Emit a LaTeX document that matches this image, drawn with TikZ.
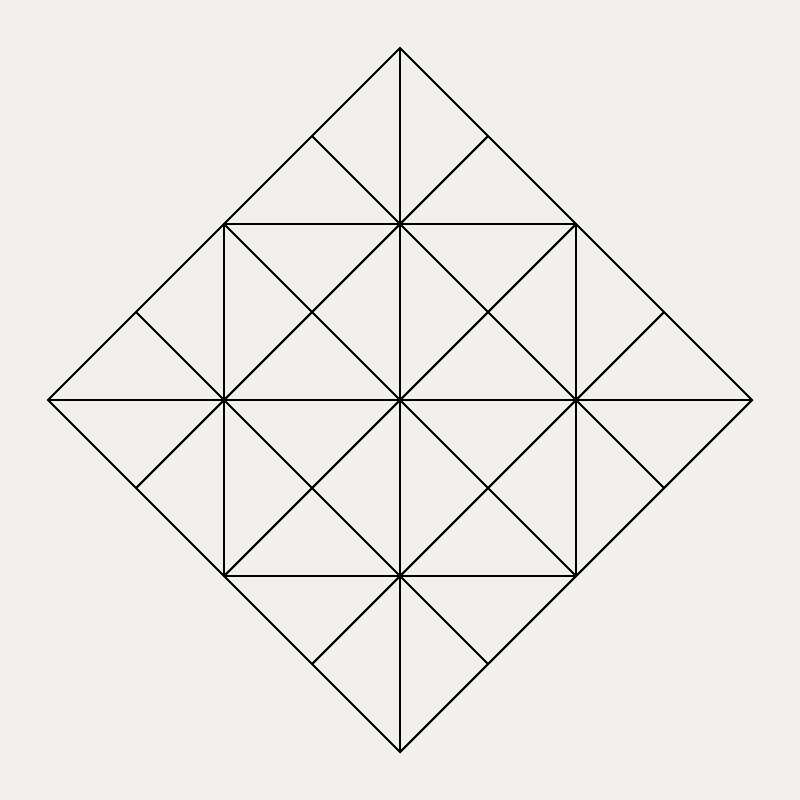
\documentclass[tikz,border=0pt]{standalone}
\definecolor{bg}{HTML}{F1F0ED}
\begin{document}
\begin{tikzpicture}[x=0.01cm,y=-0.01cm,line width=0.6pt,line join=miter,
  edge/.style={draw=black}]
\fill[bg] (0,0) rectangle (800,800);
\useasboundingbox (0,0) rectangle (800,800);
\coordinate (T) at (400,48);
\coordinate (R) at (752,400);
\coordinate (B) at (400,752);
\coordinate (L) at (48,400);
% outer diamond
\draw[edge] (T) -- (R) -- (B) -- (L) -- cycle;
% inner square
\draw[edge] (224,224) -- (576,224) -- (576,576) -- (224,576) -- cycle;
% axes
\draw[edge] (T) -- (B);
\draw[edge] (L) -- (R);
% square diagonals
\draw[edge] (224,224) -- (576,576);
\draw[edge] (576,224) -- (224,576);
% offset diagonals
\draw[edge] (312,136) -- (664,488);
\draw[edge] (136,312) -- (488,664);
\draw[edge] (488,136) -- (136,488);
\draw[edge] (664,312) -- (312,664);
\end{tikzpicture}
\end{document}
